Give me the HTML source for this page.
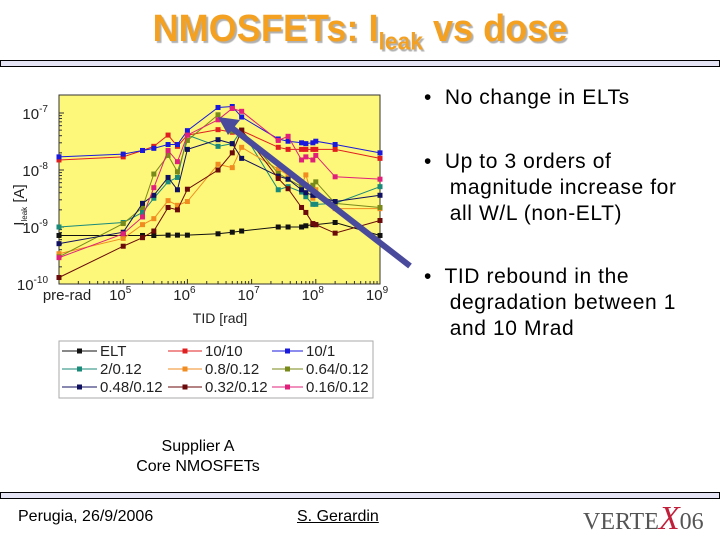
<!DOCTYPE html>
<html><head><meta charset="utf-8"><style>
body{margin:0;width:720px;height:540px;background:#fff;position:relative;overflow:hidden;font-family:"Liberation Sans",sans-serif}
.abs{position:absolute}
.bar{position:absolute;left:0;width:720px;height:5px;border:1px solid #000;background:#e4e4f4;box-sizing:border-box}
.bul{font-size:21px;color:#000;line-height:26px;letter-spacing:0.6px}
</style></head><body>
<div class="abs" style="left:0;width:720px;top:8px;text-align:center;font-size:38px;font-weight:bold;color:#f4a020;text-shadow:2px 2px 1px #b0b0b0;transform:scaleX(0.95)">NMOSFETs: I<sub style="font-size:24px">leak</sub> vs dose</div>
<div class="bar" style="top:60px;height:7px"></div>
<div class="bar" style="top:492px;height:7px"></div>

<div class="abs bul" style="left:424px;top:85px">•&nbsp; No change in ELTs</div>
<div class="abs bul" style="left:424px;top:149px;width:296px">•&nbsp; Up to 3 orders of<br>&nbsp;&nbsp;&nbsp; magnitude increase for<br>&nbsp;&nbsp;&nbsp; all W/L (non-ELT)</div>
<div class="abs bul" style="left:424px;top:264px;width:296px">•&nbsp; TID rebound in the<br>&nbsp;&nbsp;&nbsp; degradation between 1<br>&nbsp;&nbsp;&nbsp; and 10 Mrad</div>

<div class="abs" style="left:98px;width:200px;top:437px;text-align:center;font-size:16px;line-height:20px">Supplier A<br>Core NMOSFETs</div>
<div class="abs" style="left:18px;top:508px;font-size:16px">Perugia, 26/9/2006</div>
<div class="abs" style="left:297px;top:508px;font-size:16px;text-decoration:underline">S. Gerardin</div>
<div class="abs" style="left:583px;top:500px;font-family:'Liberation Serif',serif;font-size:24px;color:#555">VERTE<span style="color:#c0203a;font-style:italic;font-size:34px">X</span>06</div>

<svg class="abs" style="left:0;top:0" width="720" height="540">
<g id="plot"></g>
</svg>
<script>
const doses=[1e4,1e5,2e5,3e5,5e5,7e5,1e6,3e6,5e6,7e6,2.6e7,3.7e7,6e7,7e7,9e7,1e8,2e8,1e9];
const seriesNames=["ELT","10/10","10/1","2/0.12","0.8/0.12","0.64/0.12","0.48/0.12","0.32/0.12","0.16/0.12"];
const colors=["#111","#e02020","#1a1adc","#1a8a7a","#f08c20","#7a8a1a","#101060","#6a0a0a","#e0207a"];
const ELT=[7.1e-10,7.1e-10,7.1e-10,7.1e-10,7.2e-10,7.2e-10,7.2e-10,7.6e-10,8.1e-10,8.5e-10,1.0e-9,1.0e-9,1.0e-9,1.05e-9,1.1e-9,1.1e-9,1.2e-9,7.1e-10];
const W10L10=[1.5e-8,1.7e-8,2.2e-8,2.6e-8,4.1e-8,2.6e-8,4.1e-8,5.1e-8,4.6e-8,4.9e-8,2.5e-8,2.3e-8,2.3e-8,2.3e-8,2.3e-8,2.3e-8,2.3e-8,1.6e-8];
const W10L1=[1.7e-8,1.9e-8,2.2e-8,2.4e-8,2.8e-8,2.8e-8,4.9e-8,1.25e-7,1.3e-7,8.5e-8,3.5e-8,3.2e-8,3.0e-8,2.9e-8,3.0e-8,3.2e-8,2.8e-8,2.0e-8];
const W2=[1e-9,1.2e-9,1.8e-9,3.2e-9,6.2e-9,7.4e-9,4.1e-8,2.6e-8,2.9e-8,5e-8,4.5e-9,5.1e-9,4.1e-9,3.4e-9,2.5e-9,2.5e-9,2.6e-9,5.1e-9];
const W08=[3.4e-10,6.3e-10,1.1e-9,1.4e-9,2.9e-9,2.4e-9,2.8e-9,1.26e-8,1.1e-8,2.5e-8,1.03e-8,8.2e-9,5.4e-9,8.2e-9,3.2e-9,4.5e-9,2.1e-9,2.1e-9];
const W064=[3.0e-10,1.15e-9,2.2e-9,8.5e-9,1.8e-8,9.3e-9,3.3e-8,9.3e-8,4.8e-8,5e-8,8.7e-9,6.9e-9,5.1e-9,5.4e-9,5.4e-9,6.2e-9,2.6e-9,2.2e-9];
const W048=[5.1e-10,8.1e-10,2.6e-9,3.6e-9,7.4e-9,4.5e-9,2.3e-8,3.4e-8,2.9e-8,1.6e-8,7.8e-9,6.9e-9,4.5e-9,4.0e-9,3.6e-9,3.6e-9,2.8e-9,3.6e-9];
const W032=[1.3e-10,4.6e-10,6.5e-10,8.5e-10,2.2e-9,2.0e-9,4.6e-9,1e-8,2e-8,5e-8,7.1e-9,4.7e-9,2.2e-9,1.8e-9,1.15e-9,1.1e-9,7.8e-10,1.3e-9];
const W016=[2.9e-10,7.6e-10,1.5e-9,4.9e-9,2.2e-8,1.4e-8,4.1e-8,7.6e-8,1.2e-7,1.07e-7,3.3e-8,3.9e-8,1.5e-8,1.7e-8,1.5e-8,1.8e-8,7.6e-9,6.9e-9];
const allSeries=[ELT,W10L10,W10L1,W2,W08,W064,W048,W032,W016];
const xTickLabels=["pre-rad","10","10","10","10","10"];
const xTickExp=["","5","6","7","8","9"];
const yTickExp=["-7","-8","-9","-10"];

const L=59,R=380,T=95,B=284;
const xs=d=>L+(Math.log10(d)-4)/5*(R-L);
const ys=v=>284-(Math.log10(v)+10)*57;
const NS="http://www.w3.org/2000/svg";
const g=document.getElementById('plot');
function mk(tag,attrs,parent){const e=document.createElementNS(NS,tag);for(const k in attrs)e.setAttribute(k,attrs[k]);(parent||g).appendChild(e);return e;}
const bg=mk('rect',{x:L,y:T,width:R-L,height:B-T,fill:'#fdf77a',stroke:'#333','stroke-width':1});


for(let e=4;e<=9;e++){const x=xs(Math.pow(10,e));mk('line',{x1:x,x2:x,y1:B,y2:B-5,stroke:'#333'});
 if(e<9)for(let m=2;m<10;m++){const xm=xs(m*Math.pow(10,e));mk('line',{x1:xm,x2:xm,y1:B,y2:B-3,stroke:'#333'});}}
for(let e=-10;e<=-7;e++){const y=ys(Math.pow(10,e));mk('line',{x1:L,x2:L+5,y1:y,y2:y,stroke:'#333'});
 if(e<-7)for(let m=2;m<10;m++){const ym=ys(m*Math.pow(10,e));mk('line',{x1:L,x2:L+3,y1:ym,y2:ym,stroke:'#333'});}}
xTickLabels.forEach((t,i)=>{const x=xs(Math.pow(10,4+i));
 const tx=mk('text',{x:i==0?x+8:x-3,y:300,'font-size':15,'text-anchor':'middle','font-family':'Liberation Sans, sans-serif',fill:'#222'});
 
 
 tx.textContent=t;
 if(xTickExp[i]){const s=mk('tspan',{dy:-7,'font-size':10},tx);s.textContent=xTickExp[i];}});
yTickExp.forEach((t,i)=>{const y=ys(Math.pow(10,-7-i));
 const tx=mk('text',{x:48,y:y+6,'font-size':15,'text-anchor':'end','font-family':'Liberation Sans, sans-serif',fill:'#222'});
 
 
 tx.textContent='10';
 const s=mk('tspan',{dy:-7,'font-size':10},tx);s.textContent=t;});
const xt=mk('text',{x:220,y:323,'font-size':14,'text-anchor':'middle','font-family':'Liberation Sans, sans-serif',fill:'#222'});


xt.textContent='TID [rad]';
const yt=mk('text',{x:0,y:0,'font-size':15,'text-anchor':'middle','font-family':'Liberation Sans, sans-serif',fill:'#222',transform:'translate(24,205) rotate(-90)'});


yt.textContent='I';
const ys2=mk('tspan',{'font-size':8,dy:3},yt);ys2.textContent='leak';
const ys3=mk('tspan',{dy:-3},yt);ys3.textContent=' [A]';
allSeries.forEach((vals,si)=>{
 const pts=vals.map((v,i)=>xs(doses[i])+','+ys(v)).join(' ');
 const pl=mk('polyline',{points:pts,fill:'none',stroke:colors[si],'stroke-width':1});
 
 
 vals.forEach((v,i)=>{const r=mk('rect',{x:xs(doses[i])-2.5,y:ys(v)-2.5,width:5,height:5,fill:colors[si]});
  
  });
});
const ar=mk('line',{x1:410,y1:266,x2:232,y2:128,stroke:'#4a4a9c','stroke-width':6});


const ah=mk('polygon',{points:'218,117 240,120 228,135',fill:'#4a4a9c'});


const lg=mk('rect',{x:59,y:341,width:314,height:57,fill:'#fff',stroke:'#aaa'});


const cols=[[62,97,100],[168,202,205],[272,303,306]];
seriesNames.forEach((n,i)=>{const c=cols[i%3],y=351+Math.floor(i/3)*18;
 mk('line',{x1:c[0],x2:c[1],y1:y,y2:y,stroke:colors[i],'stroke-width':1});
 mk('rect',{x:(c[0]+c[1])/2-2.5,y:y-2.5,width:5,height:5,fill:colors[i]});
 const t=mk('text',{x:c[2],y:y+5,'font-size':15,'font-family':'Liberation Sans, sans-serif',fill:'#222'});
 
 
 t.textContent=n;});
</script>
</body></html>
